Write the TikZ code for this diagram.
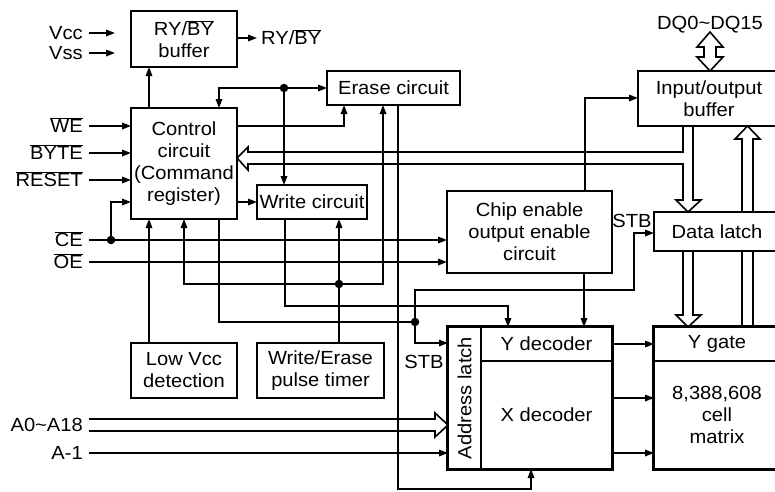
\documentclass[tikz,border=0pt]{standalone}
\usepackage{fontspec}
\setmainfont[FakeStretch=1.06]{Liberation Sans}
\usetikzlibrary{arrows.meta,backgrounds}
\newcommand{\ovl}[1]{$\overline{\hbox{#1}}$}
\begin{document}
\begin{tikzpicture}[x=1pt,y=-1pt,
  font=\fontsize{19}{22}\selectfont,
  box/.style={draw,line width=2.8pt,fill=white,align=center,inner sep=0pt},
  cell/.style={align=center,inner sep=0pt},
  wire/.style={line width=1.6pt},
  arr/.style={wire,-{Triangle[length=9pt,width=6.5pt]}},
  darr/.style={wire,{Triangle[length=9pt,width=6.5pt]}-{Triangle[length=9pt,width=6.5pt]}},
  bus/.style={line width=1.6pt,line join=miter},
  dotn/.style={circle,fill,inner sep=0pt,minimum size=8.5pt},
  lbl/.style={inner sep=0pt,anchor=base east},
  thickbox/.style={line width=2.8pt}]
\useasboundingbox (0,0) rectangle (775,491);

% ---------- boxes ----------
\node[box,minimum width=106pt,minimum height=56pt] (rybuf) at (184,39) {RY/\ovl{BY}\\buffer};
\node[box,minimum width=106pt,minimum height=111pt] (ctrl) at (184,163.5) {Control\\circuit\\(Command\\register)};
\node[box,minimum width=133pt,minimum height=34pt] (erase) at (393.5,88) {Erase circuit};
\node[box,minimum width=110pt,minimum height=34pt] (write) at (312,202) {Write circuit};
\node[box,minimum width=165pt,minimum height=82pt] (chip) at (529.5,232) {Chip enable\\output enable\\circuit};
\node[box,minimum width=142pt,minimum height=55pt] (iobuf) at (709,98.5) {Input/output\\buffer};
\node[box,minimum width=126pt,minimum height=39pt] (dlatch) at (717,231.5) {Data latch};
\node[box,minimum width=106pt,minimum height=55pt] (lowvcc) at (184,370.5) {Low Vcc\\detection};
\node[box,minimum width=127pt,minimum height=55pt] (timer) at (320.5,370.5) {Write/Erase\\pulse timer};

\node[cell,minimum width=33pt,minimum height=142pt] (alatch) at (464.5,398) {};
\node[rotate=90,inner sep=0pt] (alatchtxt) at (alatch.center) {Address latch};
\node[cell,minimum width=131pt,minimum height=34pt] (ydec) at (546.5,344) {Y decoder};
\node[cell,minimum width=131pt,minimum height=108pt] (xdec) at (546.5,415) {X decoder};
\draw[thickbox] (alatch.north west) rectangle (xdec.south east);
\draw[wire] (alatch.north east) -- (alatch.south east);
\draw[wire] (ydec.south west) -- (ydec.south east);

\node[cell,minimum width=126pt,minimum height=34pt] (ygate) at (717,344) {Y gate};
\node[cell,minimum width=126pt,minimum height=108pt] (matrix) at (717,415) {8,388,608\\cell\\matrix};
\draw[thickbox] (ygate.north west) rectangle (matrix.south east);
\draw[wire] (ygate.south west) -- (ygate.south east);

% ---------- labels ----------
\node[lbl] (vcc) at (83,39.5) {Vcc};
\node[lbl] (vss) at (83,59.5) {Vss};
\node[lbl] (we) at (83,132.5) {\ovl{WE}};
\node[lbl] (byte) at (83,159.5) {\ovl{BYTE}};
\node[lbl] (reset) at (83,186.5) {\ovl{RESET}};
\node[lbl] (ce) at (83,246.5) {\ovl{CE}};
\node[lbl] (oe) at (83,268.5) {\ovl{OE}};
\node[lbl] (addr) at (83,431.5) {A0\textasciitilde A18};
\node[lbl] (am1) at (83,459.5) {A-1};
\node[inner sep=0pt,anchor=base west] (ryout) at (261,44.5) {RY/\ovl{BY}};
\node[inner sep=0pt,anchor=base] (dq) at (710,29) {DQ0\textasciitilde DQ15};
\node[inner sep=0pt,anchor=base] (stb1) at (632,227) {STB};
\node[inner sep=0pt,anchor=base] (stb2) at (424,368) {STB};

% ---------- junction dots ----------
\node[dotn] (j1) at (284,88) {};
\node[dotn] (j2) at (111,240) {};
\node[dotn] (j3) at (339,284) {};
\node[dotn] (j4) at (415,322) {};

\begin{scope}[on background layer]
% power inputs
\draw[arr] (89,33) -- (115,33);
\draw[arr] (89,53) -- (115,53);
\draw[arr] (237,38) -- (257,38);
% control -> RY/BY buffer
\draw[arr] (149,108) -- (149,67);
% control inputs
\draw[arr] (89,126) -- (131,126);
\draw[arr] (89,153) -- (131,153);
\draw[arr] (89,180) -- (131,180);
\draw[arr] (89,240) -- (447,240);
\draw[arr] (89,262) -- (447,262);
\draw[arr] (j2) -- (111,202) -- (131,202);
% low vcc detection -> control
\draw[arr] (149,343) -- (149,219);
% pulse timer
\draw[wire] (339,343) -- (j3);
\draw[arr] (j3) -- (339,219);
\draw[darr] (184,219) -- (184,284) -- (383,284) -- (383,105);
% control -> STB lines
\draw[wire] (219,219) -- (219,322) -- (j4);
\draw[arr] (j4) -- (415,290) -- (634,290) -- (634,233) -- (654,233);
\draw[arr] (j4) -- (415,343) -- (448,343);
% write circuit -> Y decoder
\draw[arr] (285,219) -- (285,306) -- (508,306) -- (508,327);
% control -> erase
\draw[arr] (237,126) -- (344,126) -- (344,105);
% junction j1
\draw[arr] (j1) -- (327,88);
\draw[arr] (j1) -- (219,88) -- (219,108);
\draw[arr] (j1) -- (284,185);
% control -> write
\draw[arr] (237,202) -- (257,202);
% erase -> X decoder
\draw[arr] (398,105) -- (398,489) -- (531,489) -- (531,469);
% chip enable
\draw[arr] (584,273) -- (584,327);
\draw[arr] (585,191) -- (585,98) -- (638,98);
% decoders -> matrix
\draw[arr] (612,344) -- (654,344);
\draw[arr] (612,398) -- (654,398);
\draw[arr] (612,453) -- (654,453);
% A-1
\draw[arr] (89,453) -- (448,453);
% ---------- buses ----------
\draw[bus] (89,419) -- (435,419) -- (435,413) -- (448,425) -- (435,437) -- (435,431) -- (89,431);
\draw[bus] (710,32) -- (723,47) -- (716,47) -- (716,57) -- (723,57) -- (710,71) -- (697,57) -- (704,57) -- (704,47) -- (697,47) -- cycle;
\draw[bus] (693,126) -- (693,200) -- (701,200) -- (688,212) -- (676,200) -- (683,200) -- (683,164)
  -- (248,164) -- (248,170) -- (237,158) -- (248,147) -- (248,152) -- (683,152) -- (683,126);
\draw[bus] (683,251) -- (683,315) -- (676,315) -- (688,327) -- (701,315) -- (693,315) -- (693,251);
\draw[bus] (742,327) -- (742,139) -- (735,139) -- (747.5,126) -- (760,139) -- (753,139) -- (753,327);
\end{scope}
\end{tikzpicture}
\end{document}
